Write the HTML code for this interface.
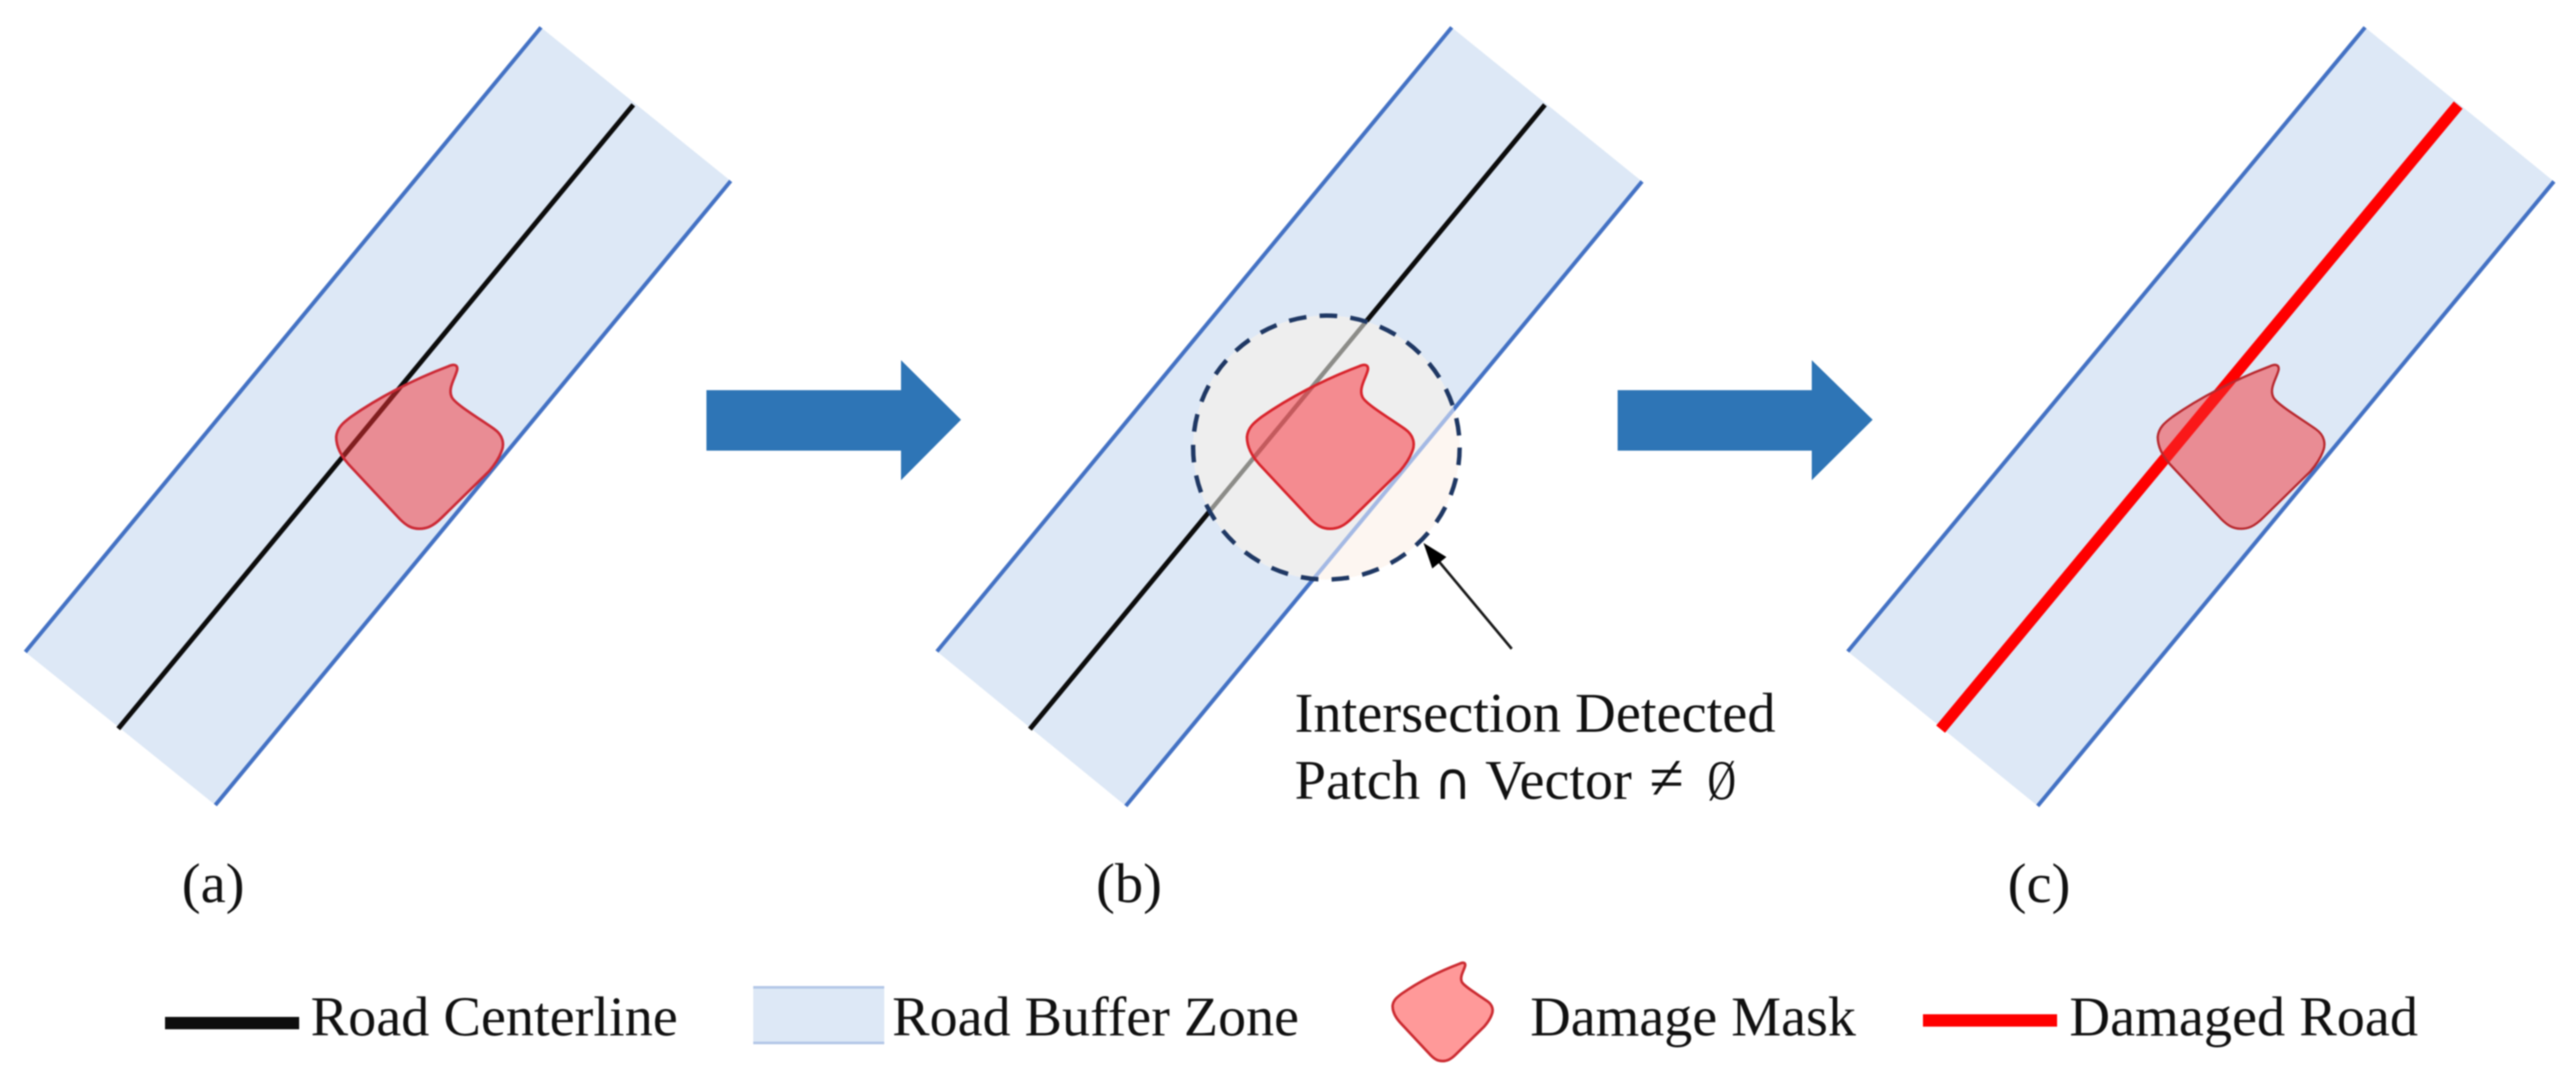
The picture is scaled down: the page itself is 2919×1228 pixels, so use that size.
<!DOCTYPE html>
<html><head><meta charset="utf-8"><style>
html,body{margin:0;padding:0;background:#fff}
svg{display:block;filter:blur(.7px)}
text{font-family:"Liberation Serif",serif;fill:#111}
</style></head><body>
<svg xmlns="http://www.w3.org/2000/svg" width="2919" height="1228" viewBox="0 0 2919 1228">
<defs>
<path id="blob" d="M1540,415 C1546,412 1551,413 1550,419 C1548,428 1539,440 1544,450 C1548,458 1575,474 1592,486 C1602,493 1604,503 1600,512 C1597,520 1592,527 1586,534 L1533,586 C1522,597 1515,599 1507,599 C1498,599 1492,595 1485,588 C1470,572 1440,540 1427,526 C1418,516 1413,505 1413,495 C1414,484 1422,478 1430,472 C1460,451 1500,430 1540,415 Z"/>
<clipPath id="circ"><ellipse cx="1503" cy="507" rx="151" ry="149.5"/></clipPath>
</defs>
<!-- panel a -->
<polygon points="28.7,738.6 613,31 828,205 244,912" fill="#dde8f6"/>
<line x1="28.7" y1="738.6" x2="613" y2="31" stroke="#4472c4" stroke-width="4.5"/>
<line x1="244" y1="912" x2="828" y2="205" stroke="#4472c4" stroke-width="4.5"/>
<line x1="134" y1="825.5" x2="717.6" y2="118.7" stroke="#0c0c0c" stroke-width="5.5"/>
<use href="#blob" transform="translate(-1032,0)" fill="rgba(245,48,50,.5)" stroke="#cc2a36" stroke-width="3"/>

<!-- panel b -->
<polygon points="1061.7,738 1645,31 1860.7,205.6 1275.7,913" fill="#dde8f6"/>
<line x1="1061.7" y1="738" x2="1645" y2="31" stroke="#4472c4" stroke-width="4.5"/>
<line x1="1275.7" y1="913" x2="1860.7" y2="205.6" stroke="#4472c4" stroke-width="4.5"/>
<line x1="1167" y1="826" x2="1750.6" y2="118.7" stroke="#0c0c0c" stroke-width="5.5"/>
<ellipse cx="1503" cy="507" rx="151" ry="149.5" fill="#fdf6f1"/>
<g clip-path="url(#circ)">
<polygon points="1061.7,738 1645,31 1860.7,205.6 1275.7,913" fill="#eeeeee"/>
<line x1="1167" y1="826" x2="1750.6" y2="118.7" stroke="#8c8c88" stroke-width="5"/>
<line x1="1275.7" y1="913" x2="1860.7" y2="205.6" stroke="#a4b9e4" stroke-width="4.5"/>
</g>
<use href="#blob" fill="rgba(250,40,50,.5)" stroke="#d8242c" stroke-width="3"/>
<ellipse cx="1503" cy="507" rx="151" ry="149.5" fill="none" stroke="#1f3864" stroke-width="5" stroke-dasharray="20 15"/>
<line x1="1713" y1="735" x2="1628" y2="633" stroke="#1a1a1a" stroke-width="3"/>
<polygon points="1613,615 1639,631 1623,644" fill="#000"/>

<!-- panel c -->
<polygon points="2093.8,738 2680,31 2894,205.6 2309,913" fill="#dde8f6"/>
<line x1="2093.8" y1="738" x2="2680" y2="31" stroke="#4472c4" stroke-width="4.5"/>
<line x1="2309" y1="913" x2="2894" y2="205.6" stroke="#4472c4" stroke-width="4.5"/>
<line x1="2199" y1="826" x2="2785.5" y2="119" stroke="#ff0000" stroke-width="13"/>
<use href="#blob" transform="translate(1032,0)" fill="rgba(245,48,50,.5)" stroke="#b8282e" stroke-width="2.6"/>

<!-- arrows -->
<polygon points="800.5,442 1021,442 1021,408 1089,475.5 1021,544 1021,510.5 800.5,510.5" fill="#2e75b6"/>
<polygon points="1833,442 2053,442 2053,408 2122,475.5 2053,544 2053,510.5 1833,510.5" fill="#2e75b6"/>

<!-- legend -->
<rect x="187" y="1152" width="152" height="14" fill="#0d0d0d"/>
<rect x="853.5" y="1117" width="148.5" height="66" fill="#dde8f6"/>
<rect x="853.5" y="1117" width="148.5" height="3" fill="#b4c7e7"/>
<rect x="853.5" y="1180" width="148.5" height="3" fill="#b4c7e7"/>
<use href="#blob" transform="translate(1578,1091) scale(0.6) translate(-1413,-414)" fill="#ff9999" stroke="#cc2c32" stroke-width="5"/>
<rect x="2179" y="1149" width="152" height="14" fill="#ff0000"/>

<!-- text -->
<text x="1467" y="829" font-size="64" textLength="545" lengthAdjust="spacingAndGlyphs">Intersection Detected</text>
<text x="1467" y="905" font-size="64">Patch</text>
<text x="1625" y="905" font-size="58" style="font-family:'DejaVu Sans',sans-serif">∩</text>
<text x="1683" y="905" font-size="64" textLength="166" lengthAdjust="spacingAndGlyphs">Vector</text>
<text x="1869" y="905" font-size="72" textLength="39" lengthAdjust="spacingAndGlyphs">≠</text>
<text x="1935" y="905" font-size="64" textLength="32" lengthAdjust="spacingAndGlyphs">Ø</text>
<text x="206" y="1022" font-size="64">(a)</text>
<text x="1242" y="1022" font-size="64">(b)</text>
<text x="2275" y="1022" font-size="64">(c)</text>
<text x="352" y="1173" font-size="64" textLength="416" lengthAdjust="spacingAndGlyphs">Road Centerline</text>
<text x="1011" y="1173" font-size="64" textLength="461" lengthAdjust="spacingAndGlyphs">Road Buffer Zone</text>
<text x="1734" y="1173" font-size="64" textLength="369" lengthAdjust="spacingAndGlyphs">Damage Mask</text>
<text x="2345" y="1173" font-size="64" textLength="395" lengthAdjust="spacingAndGlyphs">Damaged Road</text>
</svg>
</body></html>
